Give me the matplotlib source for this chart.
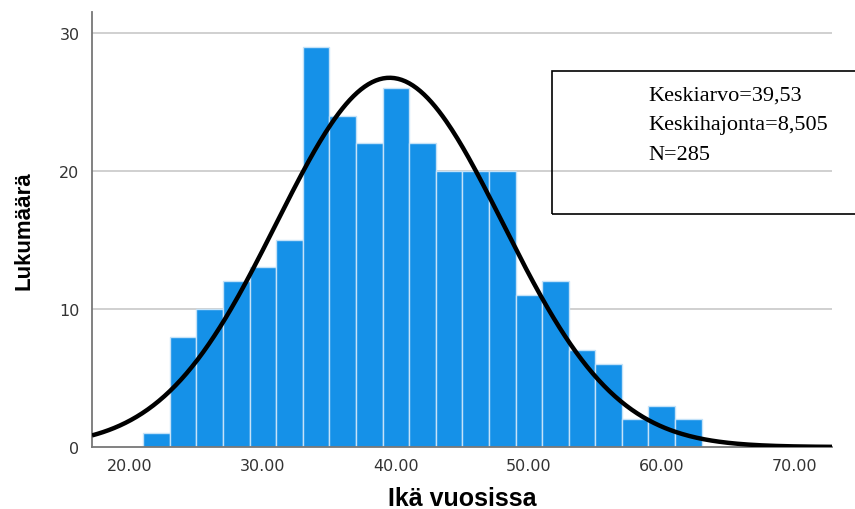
import numpy as np
import matplotlib
matplotlib.use("Agg")
from matplotlib import pyplot as plt
from matplotlib.patches import Rectangle

# histogram bins (age, 2-year bins) and counts
binEdges = [21, 23, 25, 27, 29, 31, 33, 35, 37, 39, 41, 43, 45, 47, 49, 51, 53, 55, 57, 59, 61, 63]
counts = [1, 8, 10, 12, 13, 15, 29, 24, 22, 26, 22, 20, 20, 20, 11, 12, 7, 6, 2, 3, 2]
mean = 39.53
sd = 8.505
n = 285
xTicks = [20, 30, 40, 50, 60, 70]
xTickLabels = ["20.00", "30.00", "40.00", "50.00", "60.00", "70.00"]
yTicks = [0, 10, 20, 30]
statLines = ["Keskiarvo=39,53", "Keskihajonta=8,505", "N=285"]

W, H = 855, 510
fig = plt.figure(figsize=(W / 100, H / 100), dpi=100)
ax = fig.add_axes([92 / W, 1 - 448 / H, (832 - 92) / W, (448 - 13) / H])

edges = np.array(binEdges, dtype=float)
ax.bar(edges[:-1], counts, width=np.diff(edges), align="edge",
       color="#1591e8", edgecolor="#c4e2f8", linewidth=1.0, zorder=2)

xmin, xmax = 17.15, 72.8
xs = np.linspace(xmin, xmax, 400)
binW = edges[1] - edges[0]
ys = n * binW / (sd * np.sqrt(2 * np.pi)) * np.exp(-0.5 * ((xs - mean) / sd) ** 2)
ax.plot(xs, ys, color="black", lw=3.2, zorder=3, solid_capstyle="butt")

ax.set_xlim(xmin, xmax)
ax.set_ylim(0, 31.5)
ax.set_xticks(xTicks)
ax.set_xticklabels(xTickLabels)
ax.set_yticks(yTicks)
ax.tick_params(length=0, labelsize=11.5, colors="#333333", pad=8)
ax.tick_params(axis="y", pad=9)
for t in yTicks[1:]:
    ax.axhline(t, color="#c8c8c8", lw=1.2, zorder=1)

for s in ["top", "right"]:
    ax.spines[s].set_visible(False)
for s in ["left", "bottom"]:
    ax.spines[s].set_color("#777777")
    ax.spines[s].set_linewidth(1.3)

labelFont = ["Liberation Sans", "DejaVu Sans"]
ax.set_xlabel("Ikä vuosissa", fontsize=18, fontweight="bold", family=labelFont, labelpad=9)
ax.set_ylabel("Lukumäärä", fontsize=16, fontweight="bold", family=labelFont, labelpad=18)

# stats box, runs off the right edge of the figure
fig.patches.append(Rectangle((552 / W, 1 - 215 / H), 320 / W, (215 - 72) / H,
                             transform=fig.transFigure, fill=False,
                             edgecolor="black", lw=1.2, clip_on=False))
for i, line in enumerate(statLines):
    fig.text(648 / W, 1 - (96 + i * 29.5) / H, line, fontsize=16,
             family="Liberation Serif", va="center", ha="left")

fig.savefig("out.png", dpi=100)
